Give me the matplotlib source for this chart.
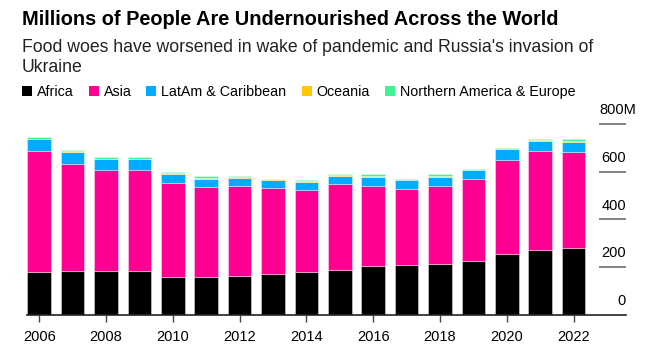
import matplotlib.pyplot as plt
import numpy as np

plt.rcParams['font.family'] = ['Liberation Sans', 'DejaVu Sans']

# Undernourished people by region, millions
years = np.arange(2006, 2023)
africa = [177, 182, 182, 182, 159, 159, 163, 170, 177, 187, 204, 207, 214, 224, 254, 270, 279]
asia = [510, 451, 426, 424, 393, 375, 375, 361, 347, 361, 335, 320, 325, 345, 396, 415, 403]
latam = [49, 49, 44, 45, 39, 35, 35, 33, 32, 33, 38, 36, 38, 36, 43, 44, 44]
oceania = [3, 3, 3, 3, 3, 3, 3, 3, 3, 3, 3, 3, 3, 3, 3, 3, 3]
nam_eur = [8, 6, 8, 8, 5, 8, 4, 4, 4, 5, 8, 5, 8, 5, 5, 7, 6]

regions = ['Africa', 'Asia', 'LatAm & Caribbean', 'Oceania', 'Northern America & Europe']
colors = ['#000000', '#FF0092', '#00ACFF', '#FFC800', '#3DF592']
series = [africa, asia, latam, oceania, nam_eur]

yticks = [0, 200, 400, 600, 800]

fig = plt.figure(figsize=(6.59, 3.6), dpi=100)
W, H = 659, 360
# axes placed in pixel terms: left 27, right 626, baseline y=314.5, 800 at y=124
ax = fig.add_axes([27 / W, (H - 314.5) / H, (626 - 27) / W, (314.5 - 124) / H])

bottom = np.zeros(len(years))
for vals, col, name in zip(series, colors, regions):
    ax.bar(years, vals, bottom=bottom, width=0.71, color=col,
           edgecolor=(1, 1, 1, 0.45), linewidth=0.6, label=name)
    bottom += np.array(vals)

x0 = 2006 - 12.2 / 33.4
x1 = 2006 + (626 - 39.2) / 33.4
ax.set_xlim(x0, x1)
ax.set_ylim(0, 800)

# short gridlines on the right with labels above them
gx0 = 2006 + (599 - 39.2) / 33.4
for v in yticks[1:]:
    ax.hlines(v, gx0, x1, color='#7a7a7a', lw=1.3, clip_on=False)
for v in yticks:
    if v == 800:
        ax.text(gx0, v + 13.5 * 800 / 190.5, '800M', ha='left', va='center', fontsize=10.5)
    else:
        ax.text(x1, v + 13.5 * 800 / 190.5, str(v), ha='right', va='center', fontsize=10.5)

for s in ['top', 'right', 'left']:
    ax.spines[s].set_visible(False)
ax.spines['bottom'].set_color('#222222')
ax.spines['bottom'].set_linewidth(1.2)
ax.set_yticks([])
ax.set_xticks(np.arange(2006, 2023, 2))
ax.tick_params(axis='x', length=5, width=1, color='#444444', labelsize=10.5, pad=6)

fig.text(22 / W, 1 - 19.5 / H, 'Millions of People Are Undernourished Across the World',
         fontsize=14.4, fontweight='bold', va='center', ha='left')
fig.text(22 / W, 1 - 57.5 / H,
         "Food woes have worsened in wake of pandemic and Russia's invasion of\nUkraine",
         fontsize=12.7, va='center', ha='left', linespacing=1.28, color='#222222')

leg = fig.legend(loc='center left', bbox_to_anchor=(16 / W, 1 - 92 / H), ncol=5,
                 frameon=False, fontsize=10.3, handlelength=0.7, handleheight=0.7,
                 handletextpad=0.35, columnspacing=1.05, borderaxespad=0)
for h in leg.legend_handles:
    h.set_edgecolor('none')

fig.savefig('out.png', dpi=100)
